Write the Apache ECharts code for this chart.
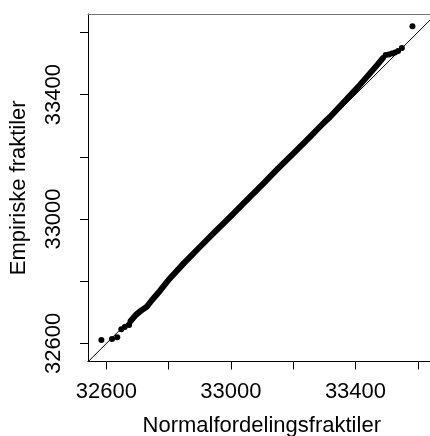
<!DOCTYPE html>
<html>
<head>
<meta charset="utf-8">
<script src="https://cdn.jsdelivr.net/npm/echarts@6/dist/echarts.min.js"></script>
<style>
html,body{margin:0;padding:0;background:#fff;}
#qq_box{width:430px;height:436px;}
</style>
</head>
<body>
<div id="qq_box"></div>
<script>
let x_ticks = [32600, 32800, 33000, 33200, 33400, 33600];
let x_labels = [32600, 33000, 33400];
let y_ticks = [32600, 32800, 33000, 33200, 33400, 33600];
let y_labels = [32600, 33000, 33400];
let x_range = [32541, 33657];
let y_range = [32542, 33659];

// dense part of the sample: theoretical vs empirical quantiles
let band_x = [32678, 32694, 32713, 32730, 32746, 32771, 32803, 32850, 32900, 32950, 33000, 33050, 33100, 33150, 33200, 33250, 33300, 33318, 33366, 33408, 33447, 33472, 33488];
let band_y = [32672, 32691, 32707, 32718, 32739, 32768, 32808, 32859, 32910, 32960, 33009, 33060, 33110, 33161, 33210, 33260, 33311, 33328, 33379, 33424, 33469, 33498, 33517];
// separate points in the tails
let tail_x = [32584, 32618, 32635, 32648, 32659, 32673, 33497, 33507, 33517, 33527, 33537, 33549, 33583];
let tail_y = [32611, 32614, 32620, 32646, 32653, 32659, 33527, 33529, 33532, 33535, 33540, 33550, 33620];
// qqline
let line_x = [32500, 33700];
let line_y = [32500, 33700];

function zip(a, b){
    return a.map(function(v, i){ return [v, b[i]]; });
}

function data_qq(){
    let qq_box = echarts.init(document.getElementById('qq_box'));
    let txt = {color: '#000', fontSize: 22, fontFamily: 'Liberation Sans'};
    let plain = function(v){ return String(v); };
    let qq_option = {
        animation: false,
        backgroundColor: '#fff',
        grid: {left: 88, top: 14, width: 347.5, height: 347.5, containLabel: false, outerBoundsMode: 'none'},
        xAxis: [
            {
                type: 'value',
                min: x_range[0], max: x_range[1],
                position: 'bottom',
                axisLine: {lineStyle: {color: '#000', width: 1}},
                axisTick: {customValues: x_ticks, length: 8, lineStyle: {color: '#000'}},
                axisLabel: Object.assign({customValues: x_labels, margin: 19, formatter: plain}, txt),
                splitLine: {show: false},
                name: 'Normalfordelingsfraktiler',
                nameLocation: 'middle',
                nameGap: 53,
                nameTextStyle: txt
            },
            {
                type: 'value',
                min: x_range[0], max: x_range[1],
                position: 'top',
                axisLine: {lineStyle: {color: '#777', width: 1}},
                axisTick: {show: false},
                axisLabel: {show: false},
                splitLine: {show: false}
            }
        ],
        yAxis: [
            {
                type: 'value',
                min: y_range[0], max: y_range[1],
                axisLine: {show: true, lineStyle: {color: '#000', width: 1}},
                axisTick: {show: true, customValues: y_ticks, length: 8, lineStyle: {color: '#000'}},
                axisLabel: Object.assign({customValues: y_labels, margin: 23, rotate: 90, formatter: plain}, txt),
                splitLine: {show: false},
                name: 'Empiriske fraktiler',
                nameLocation: 'middle',
                nameGap: 58,
                nameTextStyle: txt
            }
        ],
        series: [
            {
                type: 'line',
                data: zip(line_x, line_y),
                symbol: 'none',
                silent: true,
                lineStyle: {color: '#000', width: 1}
            },
            {
                type: 'line',
                data: zip(band_x, band_y),
                symbol: 'none',
                lineStyle: {color: '#000', width: 6, cap: 'round', join: 'round'}
            },
            {
                type: 'scatter',
                data: zip(tail_x, tail_y),
                symbolSize: 6,
                itemStyle: {color: '#000', opacity: 1}
            }
        ]
    };
    qq_box.setOption(qq_option);
}

data_qq();
</script>
</body>
</html>
